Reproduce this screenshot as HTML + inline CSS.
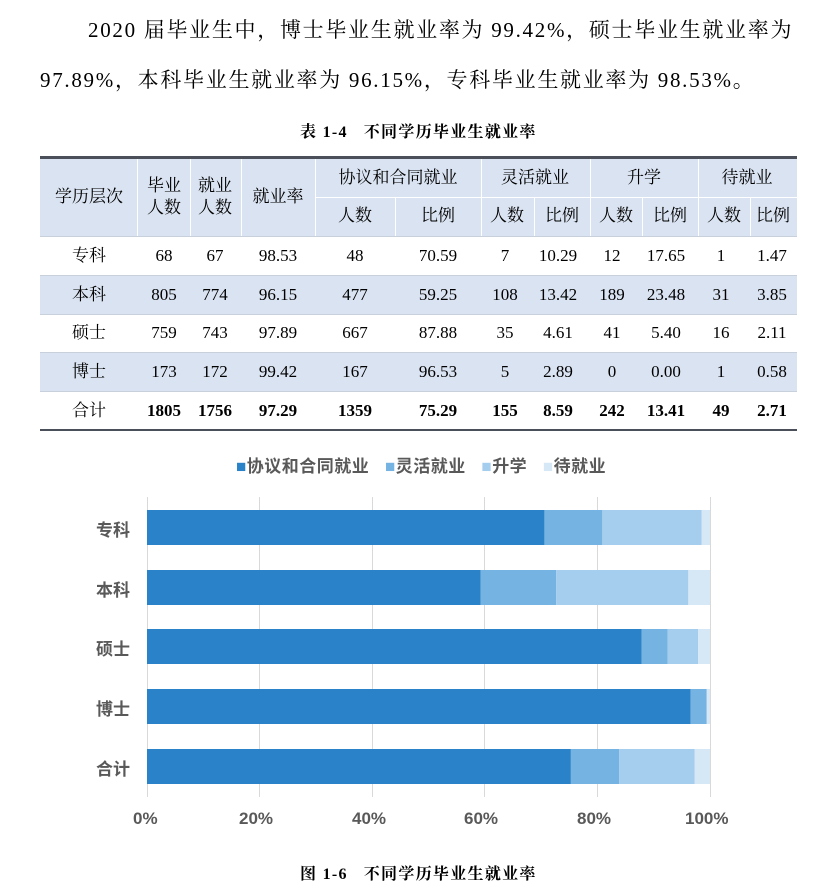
<!DOCTYPE html>
<html><head><meta charset="utf-8"><style>
body{margin:0;width:834px;height:890px;background:#fff;position:relative;font-family:"Liberation Serif","Noto Serif CJK SC",serif;color:#000;overflow:hidden}
.p{position:absolute;font-size:21px;white-space:nowrap;letter-spacing:1.7px}
.cap{position:absolute;font-size:16px;font-weight:bold;white-space:nowrap;letter-spacing:1.3px}
.t{position:absolute;font-size:17px;text-align:center;transform:translate(-50%,-50%);white-space:nowrap;line-height:1.3}
.band{position:absolute;left:40px;width:757px;background:#dae3f1}
.vl{position:absolute;width:1px;background:#fff}
.hl{position:absolute;height:1px;background:#c8d0dc}
.s{font-family:"Liberation Sans","Noto Sans CJK SC",sans-serif;color:#595959;font-weight:bold;position:absolute;white-space:nowrap}
</style></head><body>
<div class="p" style="left:88px;top:14px">2020 届毕业生中，博士毕业生就业率为 99.42%，硕士毕业生就业率为</div>
<div class="p" style="left:40px;top:64px">97.89%，本科毕业生就业率为 96.15%，专科毕业生就业率为 98.53%。</div>
<div class="cap" style="left:300px;top:119px">表 1-4&nbsp;&nbsp;&nbsp;不同学历毕业生就业率</div>

<div class="band" style="top:157px;height:79px"></div>
<div class="band" style="top:275px;height:39px"></div>
<div class="band" style="top:352px;height:39px"></div>
<div style="position:absolute;left:40px;width:757px;top:156px;height:3px;background:#4a4f5a"></div>
<div style="position:absolute;left:40px;width:757px;top:429px;height:2px;background:#4a4f5a"></div>
<div class="hl" style="left:315px;width:482px;top:197px;background:#fff"></div>
<div class="hl" style="left:40px;width:757px;top:236px"></div>
<div class="hl" style="left:40px;width:757px;top:275px"></div>
<div class="hl" style="left:40px;width:757px;top:314px"></div>
<div class="hl" style="left:40px;width:757px;top:352px"></div>
<div class="hl" style="left:40px;width:757px;top:391px"></div>
<div class="vl" style="left:137px;top:159px;height:77px"></div>
<div class="vl" style="left:190px;top:159px;height:77px"></div>
<div class="vl" style="left:241px;top:159px;height:77px"></div>
<div class="vl" style="left:315px;top:159px;height:77px"></div>
<div class="vl" style="left:481px;top:159px;height:77px"></div>
<div class="vl" style="left:590px;top:159px;height:77px"></div>
<div class="vl" style="left:698px;top:159px;height:77px"></div>
<div class="vl" style="left:395px;top:197px;height:39px"></div>
<div class="vl" style="left:534px;top:197px;height:39px"></div>
<div class="vl" style="left:642px;top:197px;height:39px"></div>
<div class="vl" style="left:750px;top:197px;height:39px"></div>

<div class="t" style="left:89px;top:197px">学历层次</div>
<div class="t" style="left:164px;top:197px">毕业<br>人数</div>
<div class="t" style="left:215px;top:197px">就业<br>人数</div>
<div class="t" style="left:278px;top:197px">就业率</div>
<div class="t" style="left:398px;top:178px">协议和合同就业</div>
<div class="t" style="left:535px;top:178px">灵活就业</div>
<div class="t" style="left:644px;top:178px">升学</div>
<div class="t" style="left:747px;top:178px">待就业</div>
<div class="t" style="left:355px;top:216px">人数</div>
<div class="t" style="left:438px;top:216px">比例</div>
<div class="t" style="left:507px;top:216px">人数</div>
<div class="t" style="left:562px;top:216px">比例</div>
<div class="t" style="left:616px;top:216px">人数</div>
<div class="t" style="left:670px;top:216px">比例</div>
<div class="t" style="left:724px;top:216px">人数</div>
<div class="t" style="left:773px;top:216px">比例</div>

<div id="rows"></div>
<script>
var R=[["专科","68","67","98.53","48","70.59","7","10.29","12","17.65","1","1.47"],
["本科","805","774","96.15","477","59.25","108","13.42","189","23.48","31","3.85"],
["硕士","759","743","97.89","667","87.88","35","4.61","41","5.40","16","2.11"],
["博士","173","172","99.42","167","96.53","5","2.89","0","0.00","1","0.58"],
["合计","1805","1756","97.29","1359","75.29","155","8.59","242","13.41","49","2.71"]];
var X=[89,164,215,278,355,438,505,558,612,666,721,772];
var Y=[256,295,333,372,411];var h="";
R.forEach(function(r,i){r.forEach(function(c,j){h+='<div class="t" style="left:'+X[j]+'px;top:'+Y[i]+'px;'+(i==4&&j>0?'font-weight:bold;':'')+'">'+c+'</div>';});});
document.getElementById("rows").innerHTML=h;
</script>

<svg style="position:absolute;left:0;top:0" width="834" height="890">
<g stroke="#d9d9d9" stroke-width="1">
<line x1="147.5" y1="497" x2="147.5" y2="797"/><line x1="259.5" y1="497" x2="259.5" y2="797"/><line x1="372.5" y1="497" x2="372.5" y2="797"/><line x1="484.5" y1="497" x2="484.5" y2="797"/><line x1="597.5" y1="497" x2="597.5" y2="797"/><line x1="710.5" y1="497" x2="710.5" y2="797"/>
</g>
<g id="bars"></g>
</svg>
<script>
var D=[[70.59,10.29,17.65,1.47],[59.25,13.42,23.48,3.85],[87.88,4.61,5.40,2.11],[96.53,2.89,0,0.58],[75.29,8.59,13.41,2.71]];
var C=["#2a82c8","#74b3e2","#a5cdee","#d6e8f6"];var BY=[510,570,629,689,749];var s="";
D.forEach(function(d,i){var x=147;d.forEach(function(v,j){var w=v*5.63;s+='<rect x="'+x+'" y="'+BY[i]+'" width="'+w+'" height="35" fill="'+C[j]+'"/>';x+=w;});});
document.getElementById("bars").innerHTML=s;
</script>
<div class="s" style="left:236px;top:452px;font-size:17px;letter-spacing:0.5px"><span style="color:#2a82c8">■</span>协议和合同就业&nbsp;&nbsp;&nbsp;<span style="color:#74b3e2">■</span>灵活就业&nbsp;&nbsp;&nbsp;<span style="color:#a5cdee">■</span>升学&nbsp;&nbsp;&nbsp;<span style="color:#d6e8f6">■</span>待就业</div>
<div class="s" style="left:96px;top:516px;font-size:17px">专科</div>
<div class="s" style="left:96px;top:576px;font-size:17px">本科</div>
<div class="s" style="left:96px;top:635px;font-size:17px">硕士</div>
<div class="s" style="left:96px;top:695px;font-size:17px">博士</div>
<div class="s" style="left:96px;top:755px;font-size:17px">合计</div>
<div class="s" style="left:133px;top:809px;font-size:17px">0%</div>
<div class="s" style="left:239px;top:809px;font-size:17px">20%</div>
<div class="s" style="left:352px;top:809px;font-size:17px">40%</div>
<div class="s" style="left:464px;top:809px;font-size:17px">60%</div>
<div class="s" style="left:577px;top:809px;font-size:17px">80%</div>
<div class="s" style="left:685px;top:809px;font-size:17px">100%</div>
<div class="cap" style="left:300px;top:861px">图 1-6&nbsp;&nbsp;&nbsp;不同学历毕业生就业率</div>
</body></html>
